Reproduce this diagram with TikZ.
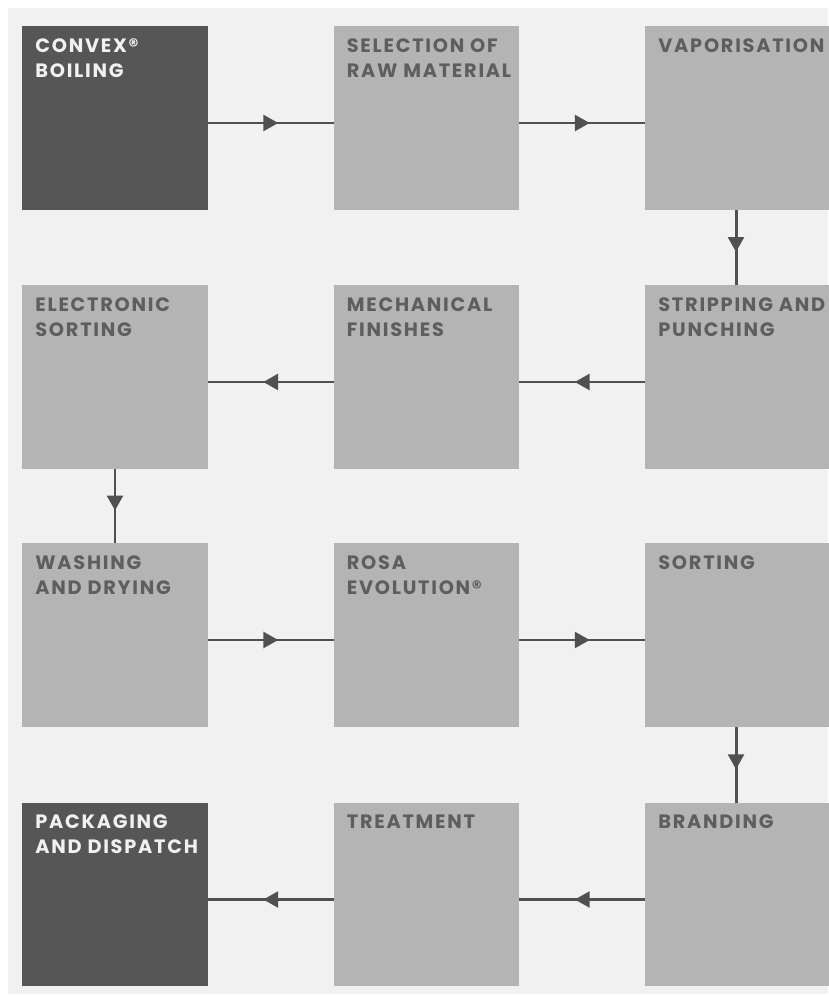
\documentclass[tikz,border=0pt]{standalone}
\usepackage{fontspec}
\setmainfont{Poppins}[LetterSpace=9]
\usetikzlibrary{arrows.meta,decorations.markings}
\definecolor{bggray}{HTML}{F1F1F1}
\definecolor{darkbox}{HTML}{565656}
\definecolor{lightbox}{HTML}{B4B4B4}
\definecolor{lighttext}{HTML}{5E5E5E}
\definecolor{arrowgray}{HTML}{505050}
\tikzset{
  box/.style={minimum width=3.72cm,minimum height=3.68cm,inner sep=0pt,outer sep=0pt},
  stepdark/.style={box,fill=darkbox},
  steplight/.style={box,fill=lightbox},
  lbl/.style={anchor=north west,inner sep=0pt,align=left,font=\fontsize{11}{14.2}\selectfont\bfseries},
  flow/.style={draw=arrowgray,line width=1.7pt,postaction={decorate},
    decoration={markings,mark=at position 0.56 with {\arrow[arrowgray]{Triangle[length=8.5pt,width=9pt]}}}}
}
\begin{document}
\begin{tikzpicture}[x=0.02cm,y=-0.02cm]
        \useasboundingbox (0,0) rectangle (828,996);
        \fill[white] (0,0) rectangle (828,996);
        \fill[bggray] (8,8) rectangle (828,994);
        % row 1
        \node[stepdark](boil)at(115,118){};
        \node[steplight](sel)at(426.5,118){};
        \node[steplight](vap)at(738,118){};
        % row 2
        \node[steplight](elec)at(115,377){};
        \node[steplight](mech)at(426.5,377){};
        \node[steplight](strip)at(738,377){};
        % row 3
        \node[steplight](wash)at(115,635){};
        \node[steplight](rosa)at(426.5,635){};
        \node[steplight](sort)at(738,635){};
        % row 4
        \node[stepdark](pack)at(115,894.5){};
        \node[steplight](treat)at(426.5,894.5){};
        \node[steplight](brand)at(738,894.5){};
        % labels
        \foreach \b/\t in {boil/{CONVEX®\\BOILING},pack/{PACKAGING\\AND DISPATCH}}
          \node[lbl,text=bggray] at ([shift={(13,12)}]\b.north west) {\t};
        \foreach \b/\t in {sel/{SELECTION OF\\RAW MATERIAL},vap/{VAPORISATION},elec/{ELECTRONIC\\SORTING},mech/{MECHANICAL\\FINISHES},strip/{STRIPPING AND\\PUNCHING},wash/{WASHING\\AND DRYING},rosa/{ROSA\\EVOLUTION®},sort/{SORTING},treat/{TREATMENT},brand/{BRANDING}}
          \node[lbl,text=lighttext] at ([shift={(13,12)}]\b.north west) {\t};
        % connectors (horizontal ones sit a little below the box middle)
        \draw[flow]([yshift=-0.1cm]boil.east)--([yshift=-0.1cm]sel.west);
        \draw[flow]([yshift=-0.1cm]sel.east)--([yshift=-0.1cm]vap.west);
        \draw[flow]([xshift=-0.04cm]vap.south)--([xshift=-0.04cm]strip.north);
        \draw[flow]([yshift=-0.1cm]strip.west)--([yshift=-0.1cm]mech.east);
        \draw[flow]([yshift=-0.1cm]mech.west)--([yshift=-0.1cm]elec.east);
        \draw[flow](elec)--(wash);
        \draw[flow]([yshift=-0.1cm]wash.east)--([yshift=-0.1cm]rosa.west);
        \draw[flow]([yshift=-0.1cm]rosa.east)--([yshift=-0.1cm]sort.west);
        \draw[flow]([xshift=-0.04cm]sort.south)--([xshift=-0.04cm]brand.north);
        \draw[flow]([yshift=-0.1cm]brand.west)--([yshift=-0.1cm]treat.east);
        \draw[flow]([yshift=-0.1cm]treat.west)--([yshift=-0.1cm]pack.east);
    \end{tikzpicture}
\end{document}
